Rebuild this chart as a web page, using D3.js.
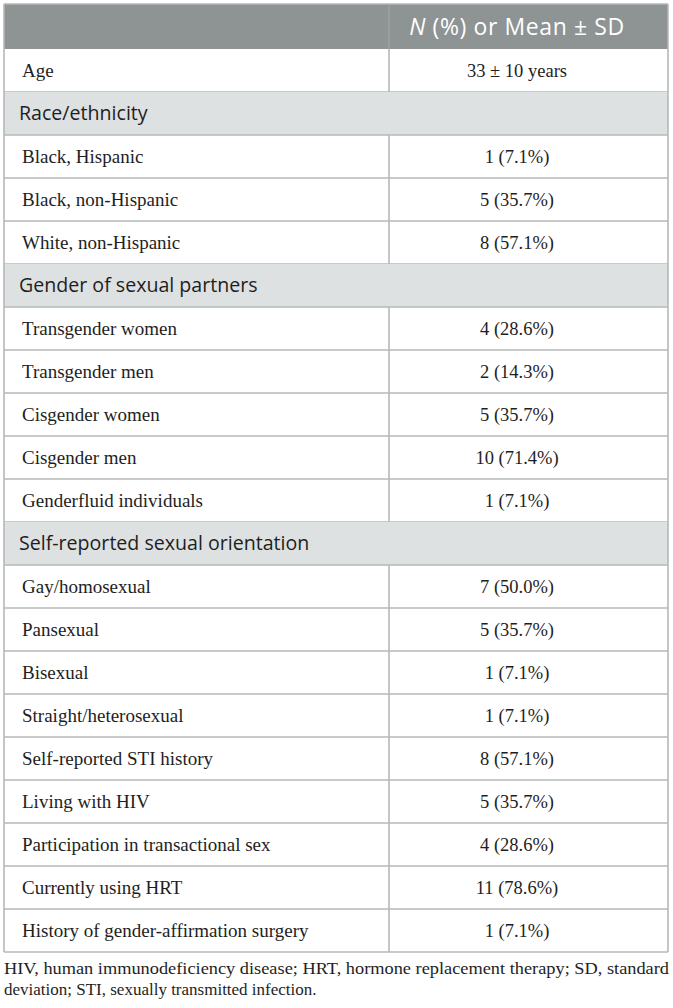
<!DOCTYPE html>
<html>
<head>
<meta charset="utf-8">
<script src="https://cdn.jsdelivr.net/npm/d3@7"></script>
<style>
  body { margin: 0; background: #fff; }
</style>
</head>
<body>
<svg id="tbl" width="673" height="1008"></svg>
<script>
// rows: kind "s" = section heading, "r" = data row
var rowLabels = ["Age", "Race/ethnicity", "Black, Hispanic", "Black, non-Hispanic", "White, non-Hispanic",
    "Gender of sexual partners", "Transgender women", "Transgender men", "Cisgender women", "Cisgender men",
    "Genderfluid individuals", "Self-reported sexual orientation", "Gay/homosexual", "Pansexual", "Bisexual",
    "Straight/heterosexual", "Self-reported STI history", "Living with HIV", "Participation in transactional sex",
    "Currently using HRT", "History of gender-affirmation surgery"];
var rowKinds = ["r", "s", "r", "r", "r", "s", "r", "r", "r", "r", "r", "s", "r", "r", "r", "r", "r", "r", "r", "r", "r"];
var rowValues = ["33 \u00b1 10 years", "", "1 (7.1%)", "5 (35.7%)", "8 (57.1%)", "", "4 (28.6%)", "2 (14.3%)",
    "5 (35.7%)", "10 (71.4%)", "1 (7.1%)", "", "7 (50.0%)", "5 (35.7%)", "1 (7.1%)", "1 (7.1%)", "8 (57.1%)",
    "5 (35.7%)", "4 (28.6%)", "11 (78.6%)", "1 (7.1%)"];
var footLines = ["HIV, human immunodeficiency disease; HRT, hormone replacement therapy; SD, standard",
    "deviation; STI, sexually transmitted infection."];

var svg = d3.select("#tbl");
var tLeft = 4, tRight = 668, split = 389, tTop = 4, headH = 45;
var tBottom = 952;
var valueX = 517;

var y = d3.scaleBand()
    .domain(d3.range(rowLabels.length))
    .range([tTop + headH, tBottom])
    .paddingInner(0);

var line = "#b6b8b8";

// header
svg.append("rect")
    .attr("x", tLeft).attr("y", tTop)
    .attr("width", tRight - tLeft).attr("height", headH)
    .attr("fill", "#8e9394");

var head = svg.append("text")
    .attr("x", valueX)
    .attr("y", tTop + headH / 2)
    .attr("dy", ".35em")
    .attr("text-anchor", "middle")
    .attr("fill", "#fff")
    .style("font-family", "'Open Sans', sans-serif")
    .style("font-size", "23px")
    .style("letter-spacing", "0.6px");
head.append("tspan").style("font-style", "italic").text("N");
head.append("tspan").text(" (%) or Mean \u00b1 SD");

var g = svg.selectAll(".row")
    .data(rowLabels.map(function (d, i) {
        return {label: d, kind: rowKinds[i], value: rowValues[i], i: i};
    }))
    .enter().append("g")
    .attr("class", "row")
    .attr("transform", function (d) {
        return "translate(0," + y(d.i) + ")";
    });

g.filter(function (d) { return d.kind === "s"; })
    .append("rect")
    .attr("x", tLeft).attr("y", 0)
    .attr("width", tRight - tLeft).attr("height", y.bandwidth())
    .attr("fill", "#dee1e2");

g.append("line")
    .attr("x1", tLeft).attr("x2", tRight)
    .attr("y1", y.bandwidth()).attr("y2", y.bandwidth())
    .attr("stroke", line).attr("stroke-width", 1.6);

g.filter(function (d) { return d.kind === "r"; })
    .append("line")
    .attr("x1", split).attr("x2", split)
    .attr("y1", 0).attr("y2", y.bandwidth())
    .attr("stroke", line).attr("stroke-width", 1.6);

g.filter(function (d) { return d.kind === "s"; })
    .append("text")
    .attr("x", 19)
    .attr("y", y.bandwidth() / 2)
    .attr("dy", ".35em")
    .attr("fill", "#1e1e1e")
    .style("font-family", "'Open Sans', sans-serif")
    .style("font-size", "19.6px")
    .text(function (d) { return d.label; });

g.filter(function (d) { return d.kind === "r"; })
    .append("text")
    .attr("x", 22)
    .attr("y", y.bandwidth() / 2)
    .attr("dy", ".35em")
    .attr("fill", "#1e1e1e")
    .style("font-family", "'Liberation Serif', serif")
    .style("font-size", "19px")
    .text(function (d) { return d.label; });

g.filter(function (d) { return d.kind === "r"; })
    .append("text")
    .attr("x", valueX)
    .attr("y", y.bandwidth() / 2)
    .attr("dy", ".35em")
    .attr("text-anchor", "middle")
    .attr("fill", "#1e1e1e")
    .style("font-family", "'Liberation Serif', serif")
    .style("font-size", "18.5px")
    .text(function (d) { return d.value; });

// outer frame
svg.append("line").attr("x1", tLeft).attr("x2", tRight).attr("y1", tTop).attr("y2", tTop)
    .attr("stroke", line).attr("stroke-width", 1.6);
svg.append("line").attr("x1", tLeft).attr("x2", tLeft).attr("y1", tTop).attr("y2", tBottom)
    .attr("stroke", line).attr("stroke-width", 1.6);
svg.append("line").attr("x1", tRight).attr("x2", tRight).attr("y1", tTop).attr("y2", tBottom)
    .attr("stroke", line).attr("stroke-width", 1.6);
svg.append("line").attr("x1", split).attr("x2", split).attr("y1", tTop).attr("y2", tTop + headH)
    .attr("stroke", "#a3a7a8").attr("stroke-width", 1.2);

// footnote
svg.selectAll(".foot")
    .data(footLines)
    .enter().append("text")
    .attr("class", "foot")
    .attr("x", tLeft)
    .attr("y", function (d, i) { return 974 + i * 21; })
    .attr("fill", "#1e1e1e")
    .attr("textLength", function (d, i) { return i === 0 ? tRight - tLeft + 1 : null; })
    .attr("lengthAdjust", "spacingAndGlyphs")
    .style("font-family", "'Liberation Serif', serif")
    .style("font-size", "17px")
    .text(function (d) { return d; });
</script>
</body>
</html>
